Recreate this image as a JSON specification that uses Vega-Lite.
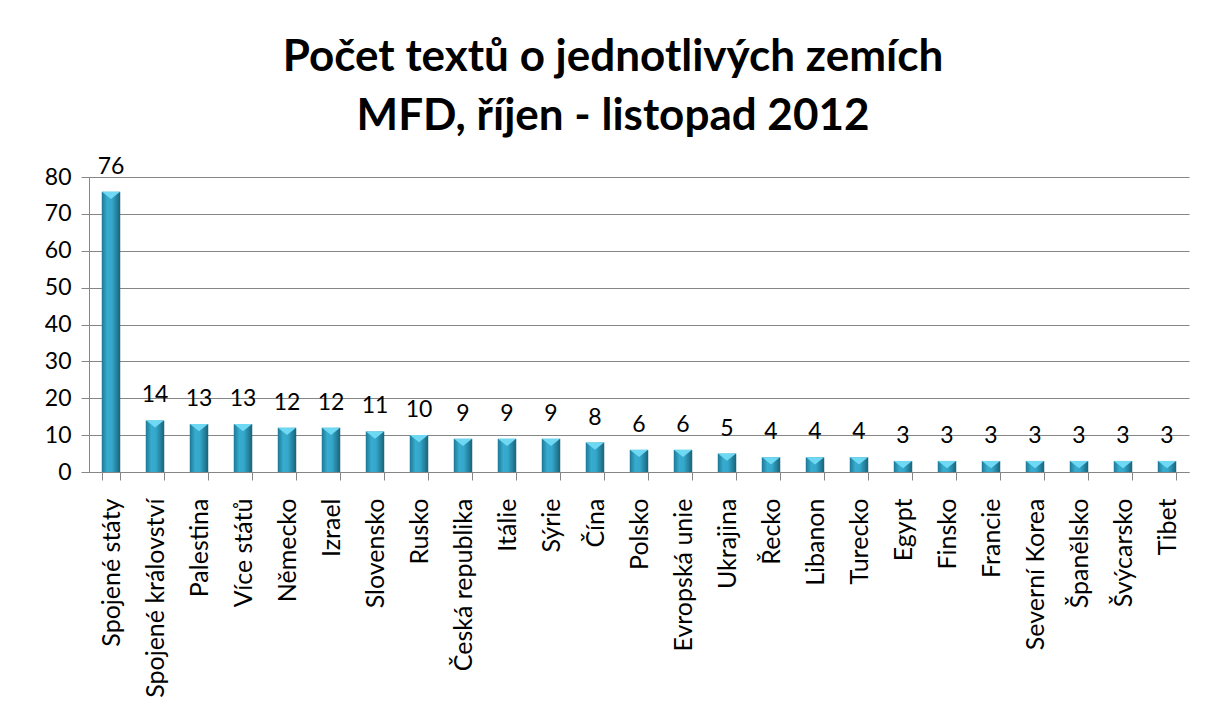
{
  "$schema": "https://vega.github.io/schema/vega-lite/v6.json",
  "autosize": {"type": "none"},
  "width": 1100,
  "height": 295,
  "padding": {"left": 89, "top": 177, "right": 27, "bottom": 246},
  "background": "white",
  "title": {
    "text": ["Počet textů o jednotlivých zemích", "MFD, říjen - listopad 2012"],
    "font": "Lato",
    "fontSize": 44,
    "fontWeight": "bold",
    "color": "black",
    "anchor": "middle",
    "frame": "group",
    "dx": -26,
    "lineHeight": 59,
    "offset": 17
  },
  "config": {
    "view": {"stroke": null},
    "font": "Lato"
  },
  "data": {
    "values": [
      {"zeme": "Spojené státy", "pocet": 76},
      {"zeme": "Spojené království", "pocet": 14},
      {"zeme": "Palestina", "pocet": 13},
      {"zeme": "Více států", "pocet": 13},
      {"zeme": "Německo", "pocet": 12},
      {"zeme": "Izrael", "pocet": 12},
      {"zeme": "Slovensko", "pocet": 11},
      {"zeme": "Rusko", "pocet": 10},
      {"zeme": "Česká republika", "pocet": 9},
      {"zeme": "Itálie", "pocet": 9},
      {"zeme": "Sýrie", "pocet": 9},
      {"zeme": "Čína", "pocet": 8},
      {"zeme": "Polsko", "pocet": 6},
      {"zeme": "Evropská unie", "pocet": 6},
      {"zeme": "Ukrajina", "pocet": 5},
      {"zeme": "Řecko", "pocet": 4},
      {"zeme": "Libanon", "pocet": 4},
      {"zeme": "Turecko", "pocet": 4},
      {"zeme": "Egypt", "pocet": 3},
      {"zeme": "Finsko", "pocet": 3},
      {"zeme": "Francie", "pocet": 3},
      {"zeme": "Severní Korea", "pocet": 3},
      {"zeme": "Španělsko", "pocet": 3},
      {"zeme": "Švýcarsko", "pocet": 3},
      {"zeme": "Tibet", "pocet": 3}
    ]
  },
  "encoding": {
    "x": {
      "field": "zeme",
      "type": "nominal",
      "sort": null,
      "scale": {"paddingInner": 0.58, "paddingOuter": 0.29},
      "axis": {
        "title": null,
        "labelAngle": -90,
        "labelAlign": "right",
        "labelBaseline": "middle",
        "labelFont": "Lato",
        "labelFontSize": 25,
        "labelColor": "black",
        "labelPadding": 18,
        "tickBand": "extent",
        "tickSize": 8,
        "tickColor": "#868686",
        "domainColor": "#868686",
        "labelLimit": 300
      }
    },
    "y": {
      "field": "pocet",
      "type": "quantitative",
      "scale": {"domain": [0, 80], "nice": false},
      "axis": {
        "title": null,
        "values": [0, 10, 20, 30, 40, 50, 60, 70, 80],
        "labelFont": "Lato",
        "labelFontSize": 23,
        "labelColor": "black",
        "labelPadding": 10,
        "tickSize": 8,
        "tickColor": "#868686",
        "domainColor": "#868686",
        "gridColor": "#868686",
        "gridWidth": 1
      }
    }
  },
  "layer": [
    {
      "mark": {
        "type": "bar",
        "fill": {
          "gradient": "linear",
          "x1": 0, "x2": 1, "y1": 0, "y2": 0,
          "stops": [
            {"offset": 0, "color": "#1e7894"},
            {"offset": 0.3, "color": "#37acd0"},
            {"offset": 0.55, "color": "#34a8cb"},
            {"offset": 1, "color": "#1a6279"}
          ]
        }
      }
    },
    {
      "mark": {
        "type": "point",
        "shape": "M-1,-0.4L1,-0.4L0,0.4Z",
        "filled": true,
        "color": "#6fd9f3",
        "opacity": 1,
        "size": 330,
        "yOffset": 3.6
      }
    },
    {
      "mark": {
        "type": "text",
        "baseline": "alphabetic",
        "dy": -18,
        "font": "Lato",
        "fontSize": 23,
        "color": "black"
      },
      "encoding": {"text": {"field": "pocet", "type": "quantitative"}}
    }
  ]
}
